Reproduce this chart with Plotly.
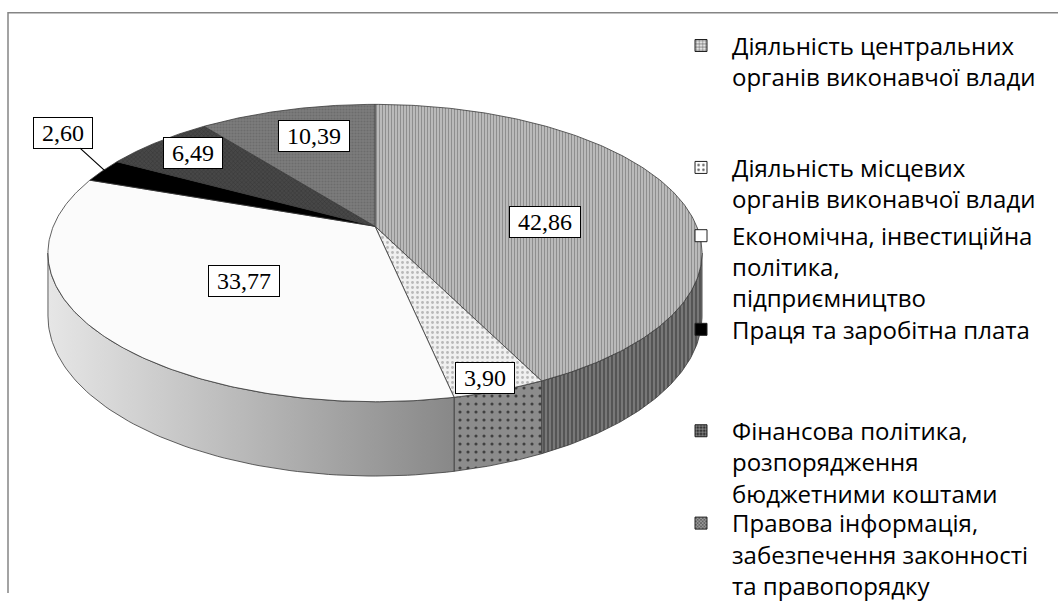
import numpy as np
import plotly.graph_objects as go

# ---------------- data ----------------
categories = [
    "Діяльність центральних<br>органів виконавчої влади",
    "Діяльність місцевих<br>органів виконавчої влади",
    "Економічна, інвестиційна<br>політика,<br>підприємництво",
    "Праця та заробітна плата",
    "Фінансова політика,<br>розпорядження<br>бюджетними коштами",
    "Правова інформація,<br>забезпечення законності<br>та правопорядку",
]
values = [42.86, 3.90, 33.77, 2.60, 6.49, 10.39]
value_labels = [f"{v:.2f}".replace(".", ",") for v in values]

# ---------------- styles ----------------
top_styles = [
    dict(bg="#c4c4c4", fg="#8e8e8e", shape="|", size=3, sol=0.45),
    dict(bg="#f0f0f0", fg="#b8b8b8", shape=".", size=5, sol=0.25),
    dict(bg="#fbfbfb", fg=None, shape="", size=4, sol=0.3),
    dict(bg="#000000", fg=None, shape="", size=4, sol=0.3),
    dict(bg="#474747", fg="#363636", shape="x", size=3, sol=0.3),
    dict(bg="#7d7d7d", fg="#6c6c6c", shape=".", size=3, sol=0.4),
]
side_styles = [
    dict(bg="#555555", fg="#7c7c7c", shape="|", size=4, sol=0.45),
    dict(bg="#8c8c8c", fg="#404040", shape=".", size=8, sol=0.12),
    dict(bg="#bdbdbd", fg=None, shape="", size=4, sol=0.3, grad=True),
    dict(bg="#000000", fg=None, shape="", size=4, sol=0.3),
    dict(bg="#2a2a2a", fg=None, shape="", size=4, sol=0.3),
    dict(bg="#555555", fg=None, shape="", size=4, sol=0.3),
]
legend_styles = [
    dict(bg="#e6e6e6", fg="#555555", shape="+", size=4, sol=0.3),
    dict(bg="#ffffff", fg="#555555", shape=".", size=6, sol=0.2),
    dict(bg="#ffffff", fg=None, shape="", size=4, sol=0.3),
    dict(bg="#000000", fg=None, shape="", size=4, sol=0.3),
    dict(bg="#333333", fg="#bbbbbb", shape="+", size=4, sol=0.3),
    dict(bg="#9a9a9a", fg="#444444", shape="x", size=3, sol=0.4),
]

# label box centres (pixels)
label_xy = [(545, 228), (485, 388), (244, 288), (63, 136), (193, 157), (314, 139)]
legend_tops = [47, 172, 242, 338, 442, 537]

# ---------------- projection of the 3D disc ----------------
CX, CY = 375.0, 232.0
RX, RY = 321.7, 147.5
A = 0.18
DEPTH = 62.5
SERIF = "Liberation Serif"
LEGEND_FONT = "Open Sans"


def proj(theta_deg, f=1.0, down=0.0):
    t = np.radians(theta_deg)
    X = f * np.sin(t)
    Y = f * np.cos(t)
    s = 1.0 / (1.0 + A * Y)
    return CX + RX * X * s, CY - RY * Y * s + down * s


total = sum(values)
bounds = np.concatenate([[0.0], np.cumsum(values) / total * 360.0])
TH1 = np.degrees(np.arccos(-A))
TH2 = 360.0 - TH1

fig = go.Figure()
OUT = "#3a3a3a"


def add_poly(xs, ys, st):
    kw = dict(x=xs, y=ys, mode="lines", fill="toself",
              line=dict(color=OUT, width=0.8), hoverinfo="skip",
              showlegend=False, fillcolor=st["bg"])
    if st.get("fg"):
        kw["fillpattern"] = dict(shape=st["shape"], bgcolor=st["bg"],
                                 fgcolor=st["fg"], size=st["size"],
                                 solidity=st["sol"], fillmode="replace")
    if st.get("grad"):
        kw["fillgradient"] = dict(type="horizontal",
                                  colorscale=[[0, "#e6e6e6"], [1, "#888888"]])
    fig.add_trace(go.Scatter(**kw))


# visible front side of the disc
for i in range(len(values)):
    a0, a1 = max(bounds[i], TH1), min(bounds[i + 1], TH2)
    if a1 <= a0:
        continue
    th = np.linspace(a0, a1, 80)
    tx, ty = proj(th)
    bx, by = proj(th[::-1], down=DEPTH)
    add_poly(list(tx) + list(bx) + [tx[0]], list(ty) + list(by) + [ty[0]],
             side_styles[i])

# top faces of the slices
for i in range(len(values)):
    th = np.linspace(bounds[i], bounds[i + 1], 200)
    ax_, ay_ = proj(th)
    add_poly([CX] + list(ax_) + [CX], [CY] + list(ay_) + [CY], top_styles[i])

# legend entries, each in its own legend box
for i, cat in enumerate(categories):
    st = legend_styles[i]
    marker = dict(color=st["bg"], line=dict(color="#222222", width=1))
    if st.get("fg"):
        marker["pattern"] = dict(shape=st["shape"], fgcolor=st["fg"],
                                 bgcolor=st["bg"], size=st["size"],
                                 solidity=st["sol"], fillmode="replace")
    lg = "legend" if i == 0 else f"legend{i + 1}"
    fig.add_trace(go.Bar(x=[None], y=[None], name=cat, marker=marker,
                         legend=lg, showlegend=True, hoverinfo="skip"))

layout_legends = {}
for i, top in enumerate(legend_tops):
    key = "legend" if i == 0 else f"legend{i + 1}"
    layout_legends[key] = dict(
        x=670 / 1058, y=1 - (top - 23) / 608,
        xanchor="left", yanchor="top", bgcolor="rgba(0,0,0,0)",
        font=dict(family=LEGEND_FONT, size=24, color="#000000"),
        valign="top", itemwidth=52, tracegroupgap=0)

# value labels (boxes sized to the text)
annotations = []
for i, lab in enumerate(value_labels):
    lx, ly = label_xy[i]
    n_digits = sum(ch.isdigit() for ch in lab)
    box_w = 12 * n_digits + 6 + 12
    ann = dict(text=lab, x=lx, y=ly, xref="x", yref="y", showarrow=False,
               font=dict(family=SERIF, size=24, color="#000000"),
               bgcolor="#ffffff", bordercolor="#000000", borderwidth=1,
               borderpad=2, width=box_w)
    if i == 3:
        mid = (bounds[i] + bounds[i + 1]) / 2
        tx, ty = proj(mid, f=0.99)
        ann.update(x=float(tx), y=float(ty), ax=lx, ay=ly, axref="x",
                   ayref="y", showarrow=True, arrowhead=0, arrowwidth=1.2,
                   arrowcolor="#000000", standoff=0)
    annotations.append(ann)

fig.update_layout(
    width=1058, height=608,
    margin=dict(l=0, r=0, t=0, b=0),
    font=dict(family=LEGEND_FONT, size=24, color="#000000"),
    paper_bgcolor="#ffffff", plot_bgcolor="#ffffff",
    xaxis=dict(range=[0, 1058], visible=False, fixedrange=True),
    yaxis=dict(range=[608, 0], visible=False, fixedrange=True),
    showlegend=True,
    annotations=annotations,
    shapes=[dict(type="rect", xref="x", yref="y", x0=8, x1=1080, y0=13,
                 y1=640, line=dict(color="#858585", width=1.5),
                 layer="below")],
    **layout_legends,
)

fig.write_html("out.html", config={"displayModeBar": False},
               post_script="document.body.style.margin='0px';")
